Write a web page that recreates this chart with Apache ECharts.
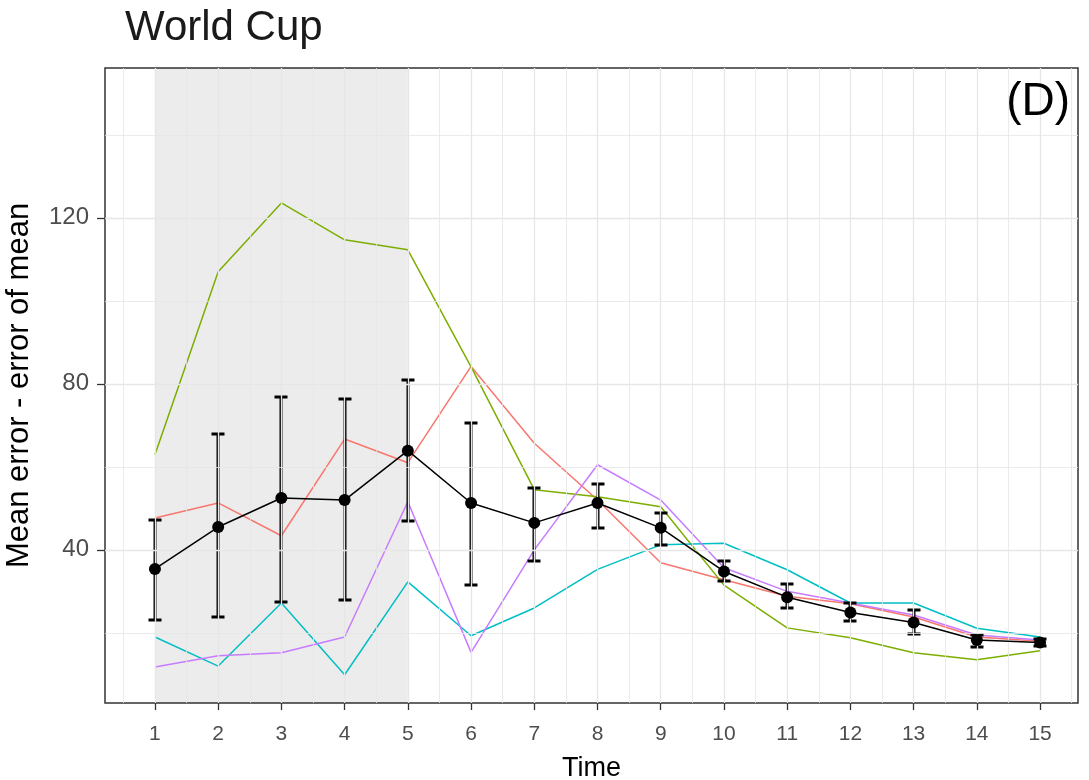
<!DOCTYPE html>
<html>
<head>
<meta charset="utf-8">
<script src="https://cdn.jsdelivr.net/npm/echarts@6/dist/echarts.min.js"></script>
<style>
html,body{margin:0;padding:0;background:#fff;}
#chart{width:1089px;height:780px;}
</style>
</head>
<body>
<div id="chart"></div>
<script>
// ---- data ----
const times = [1,2,3,4,5,6,7,8,9,10,11,12,13,14,15];
const xTickLabels = [1,2,3,4,5,6,7,8,9,10,11,12,13,14,15];
const yTickLabels = [40,80,120];
const meanVals = [35.4,45.5,52.5,52.0,63.9,51.3,46.5,51.3,45.3,34.8,28.6,24.9,22.5,18.3,17.7];
const errLow   = [23.1,23.9,27.5,28.0,47.0,31.6,37.3,45.3,41.2,32.4,26.0,22.9,19.7,16.7,16.9];
const errHigh  = [47.2,68.0,76.9,76.4,81.0,70.6,55.0,55.9,48.9,37.3,31.7,27.2,25.4,19.5,18.5];
const redVals    = [47.7,51.3,43.4,66.7,61.0,84.2,65.7,52.0,36.9,32.8,28.8,27.0,23.8,19.0,18.0];
const greenVals  = [62.9,107.0,123.6,114.7,112.3,84.1,54.5,52.8,50.4,31.5,21.2,18.8,15.2,13.5,15.7];
const cyanVals   = [19.0,12.0,27.2,9.9,32.3,19.3,26.0,35.3,41.2,41.6,35.2,27.2,27.2,21.1,19.0];
const purpleVals = [11.8,14.5,15.2,19.0,51.6,15.3,40.0,60.5,52.0,35.7,30.0,27.2,24.3,19.5,18.3];
const shadeRange = [1,5];
const xGridVals = [0.5,1,1.5,2,2.5,3,3.5,4,4.5,5,5.5,6,6.5,7,7.5,8,8.5,9,9.5,10,10.5,11,11.5,12,12.5,13,13.5,14,14.5,15,15.5];
const yGridVals = [20,40,60,80,100,120,140];
const yMajor = [40,80,120];
const xMin = 0.21, xMax = 15.6, yMin = 3.1, yMax = 156.1;

const FONT = "'Liberation Sans', Arial, sans-serif";
const pair = (arr) => times.map((t,i) => [t, arr[i]]);

const gridLines = [];
xGridVals.forEach(v => gridLines.push({xAxis: v, lineStyle: {width: Number.isInteger(v) ? 1.3 : 0.8}}));
yGridVals.forEach(v => gridLines.push({yAxis: v, lineStyle: {width: yMajor.includes(v) ? 1.3 : 0.8}}));

const chart = echarts.init(document.getElementById('chart'), null, {renderer: 'canvas'});
const option = {
  animation: false,
  backgroundColor: '#ffffff',
  title: [
    {text: 'World Cup', left: 120, top: 2, textStyle: {fontFamily: FONT, fontSize: 42, fontWeight: 'normal', color: '#1a1a1a'}},
    {text: '(D)', right: 14, top: 74, textStyle: {fontFamily: FONT, fontSize: 46, fontWeight: 'normal', color: '#000'}}
  ],
  grid: {left: 105, right: 11, top: 68, bottom: 77, show: true, borderColor: '#333', borderWidth: 1.5,
    backgroundColor: '#fff', containLabel: false, outerBoundsMode: 'none'},
  xAxis: {
    type: 'value', min: xMin, max: xMax,
    name: 'Time', nameLocation: 'middle', nameGap: 52,
    nameTextStyle: {fontFamily: FONT, fontSize: 27, color: '#000'},
    axisLine: {show: false},
    axisTick: {show: true, length: 7, lineStyle: {color: '#333', width: 1.3}, customValues: xTickLabels},
    axisLabel: {fontFamily: FONT, fontSize: 21, color: '#4d4d4d', margin: 21, customValues: xTickLabels},
    splitLine: {show: false}
  },
  yAxis: {
    type: 'value', min: yMin, max: yMax,
    name: 'Mean error - error of mean', nameLocation: 'middle', nameGap: 70,
    nameTextStyle: {fontFamily: FONT, fontSize: 31, color: '#000'},
    axisLine: {show: false},
    axisTick: {show: true, length: 8, lineStyle: {color: '#333', width: 1.3}, customValues: yTickLabels},
    axisLabel: {fontFamily: FONT, fontSize: 24, color: '#4d4d4d', margin: 16, customValues: yTickLabels},
    splitLine: {show: false}
  },
  series: [
    {
      type: 'line', data: [], z: 1, silent: true,
      markLine: {silent: true, symbol: 'none', label: {show: false}, animation: false,
        lineStyle: {color: '#e6e6e6', type: 'solid'}, data: gridLines}
    },
    {
      type: 'line', data: [], z: 2, silent: true,
      markArea: {silent: true, itemStyle: {color: 'rgba(0,0,0,0.075)'},
        data: [[{xAxis: shadeRange[0]}, {xAxis: shadeRange[1]}]]}
    },
    {type: 'line', data: pair(redVals), z: 3, symbol: 'none', lineStyle: {color: '#F8766D', width: 1.5}},
    {type: 'line', data: pair(greenVals), z: 3, symbol: 'none', lineStyle: {color: '#7CAE00', width: 1.5}},
    {type: 'line', data: pair(cyanVals), z: 3, symbol: 'none', lineStyle: {color: '#00BFC4', width: 1.5}},
    {type: 'line', data: pair(purpleVals), z: 3, symbol: 'none', lineStyle: {color: '#C77CFF', width: 1.5}},
    {
      type: 'custom', z: 4,
      data: times.map((t,i) => [t, errLow[i], errHigh[i]]),
      renderItem: function(params, api) {
        const x = api.value(0);
        const lo = api.coord([x, api.value(1)]);
        const hi = api.coord([x, api.value(2)]);
        const cx = Math.round(lo[0]);
        const w = 6.5, t = 3;
        return {type: 'group', children: [
          {type: 'rect', shape: {x: cx - 1.5, y: hi[1], width: t, height: lo[1]-hi[1]}, style: {fill: '#000', stroke: null}},
          {type: 'rect', shape: {x: cx - w, y: Math.round(lo[1]) - 1.5, width: 2*w, height: t}, style: {fill: '#000', stroke: null}},
          {type: 'rect', shape: {x: cx - w, y: Math.round(hi[1]) - 1.5, width: 2*w, height: t}, style: {fill: '#000', stroke: null}}
        ]};
      }
    },
    {type: 'line', data: pair(meanVals), z: 5, symbol: 'circle', symbolSize: 12,
      itemStyle: {color: '#000'}, lineStyle: {color: '#000', width: 1.5}}
  ]
};
chart.setOption(option);
</script>
</body>
</html>
